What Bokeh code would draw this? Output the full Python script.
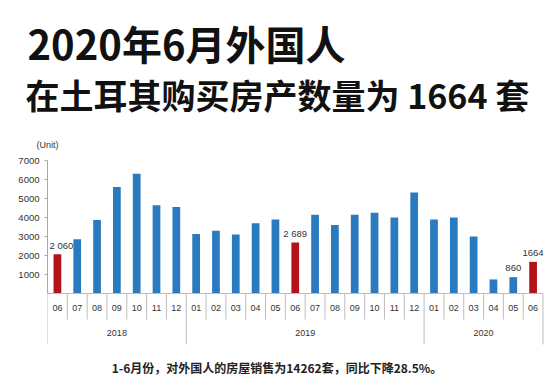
from bokeh.plotting import figure
from bokeh.models import Range1d, FixedTicker, ColumnDataSource
from bokeh.core.properties import value
from bokeh.embed import file_html
from bokeh.resources import INLINE

# ---- data ----
months = ["06", "07", "08", "09", "10", "11", "12",
          "01", "02", "03", "04", "05", "06", "07", "08", "09", "10", "11", "12",
          "01", "02", "03", "04", "05", "06"]
years = ["2018", "2019", "2020"]
year_counts = [7, 12, 6]
sales = [2060, 2850, 3870, 5600, 6300, 4650, 4550,
         3130, 3300, 3100, 3700, 3900, 2689, 4150, 3600, 4150, 4250, 4000, 5320,
         3900, 4000, 3000, 740, 860, 1664]
value_labels = ["2 060", "", "", "", "", "", "",
                "", "", "", "", "", "2 689", "", "", "", "", "", "",
                "", "", "", "", "860", "1664"]
y_ticks = [1000, 2000, 3000, 4000, 5000, 6000, 7000]
title_1 = "2020年6月外国人"
title_2 = "在土耳其购买房产数量为 1664 套"
caption = "1-6月份，对外国人的房屋销售为14262套，同比下降28.5%。"
unit_label = "(Unit)"

# ---- layout helpers (pixel -> data) ----
L = 47
CAT_W = 19.82
Y0 = 293.0
PPK = 19.0
W, H = 554, 376


def xd(px):
    return (px - L) / CAT_W


def yd(py):
    return (Y0 - py) / PPK * 1000.0


BLUE = "#2a7abf"
RED = "#b3141c"

n = len(sales)
xs = [i + 0.5 for i in range(n)]
colors = [RED if m == "06" else BLUE for m in months]
# first value label sits a little right of its bar (clear of the axis)
label_dx = [4 if i == 0 else 0 for i in range(n)]

p = figure(width=W, height=H,
           x_range=Range1d(0, xd(W)), y_range=Range1d(yd(H), yd(0)),
           x_axis_location=None, y_axis_location="left",
           toolbar_location=None, output_backend="svg", title=None,
           min_border_left=L, min_border_right=0,
           min_border_top=0, min_border_bottom=0)
p.outline_line_color = None
p.grid.visible = False
p.background_fill_color = "white"
p.border_fill_color = "white"

# y axis
ax = p.yaxis[0]
ax.ticker = FixedTicker(ticks=y_ticks)
ax.bounds = (0, 7000)
ax.axis_line_color = "#a8a8a8"
ax.major_tick_line_color = "#a8a8a8"
ax.major_tick_out = 3
ax.major_tick_in = 0
ax.minor_tick_line_color = None
ax.major_label_standoff = 5
ax.major_label_text_font = "Liberation Sans"
ax.major_label_text_font_size = "9.5px"
ax.major_label_text_color = "#333333"

# bars
src = ColumnDataSource(dict(x=xs, v=sales, c=colors, lab=value_labels, dx=label_dx))
p.vbar(x="x", top="v", bottom=0, width=0.39, fill_color="c", line_color=None, source=src)

# value labels
p.text(x="x", y="v", text="lab", source=src, text_font=value("Liberation Sans"),
       text_font_size="9.5px", text_color="#333333", text_align="center",
       text_baseline="middle", x_offset="dx", y_offset=-9, level="overlay")

# baseline and category separators
grey = "#bdbdbd"
p.segment(x0=[0], y0=[0], x1=[n], y1=[0], line_color=grey, line_width=1)
year_bounds = [0]
for c in year_counts:
    year_bounds.append(year_bounds[-1] + c)
sx0, sy0, sx1, sy1 = [], [], [], []
for b in range(n + 1):
    bottom = yd(344) if b in year_bounds else yd(319)
    sx0.append(b); sy0.append(0); sx1.append(b); sy1.append(bottom)
p.segment(x0=sx0, y0=sy0, x1=sx1, y1=sy1, line_color=grey, line_width=1)

# month labels
p.text(x=xs, y=[yd(307.5)] * n, text=months, text_font=value("Liberation Sans"),
       text_font_size="9px", text_color="#333333", text_align="center",
       text_baseline="middle")

# year labels
yc = [(year_bounds[i] + year_bounds[i + 1]) / 2 for i in range(len(years))]
p.text(x=yc, y=[yd(332.5)] * len(years), text=years, text_font=value("Liberation Sans"),
       text_font_size="9px", text_color="#333333", text_align="center",
       text_baseline="middle")

# unit label
p.text(x=[xd(47)], y=[yd(144)], text=[unit_label], text_font=value("Liberation Sans"),
       text_font_size="9px", text_color="#333333", text_align="center",
       text_baseline="middle", level="overlay")

# titles
p.text(x=[xd(27)], y=[yd(42)], text=[title_1], text_font=value("Noto Sans CJK SC"),
       text_font_size="40px", text_font_style="bold", text_color="#111111",
       text_align="left", text_baseline="alphabetic", level="overlay")
p.text(x=[xd(25)], y=[yd(93.5)], text=[title_2], text_font=value("Noto Sans CJK SC"),
       text_font_size="34px", text_font_style="bold", text_color="#111111",
       text_align="left", text_baseline="alphabetic", level="overlay")

# caption
p.text(x=[xd(276.5)], y=[yd(367)], text=[caption], text_font=value("Noto Sans CJK SC"),
       text_font_size="12px", text_font_style="bold", text_color="#222222",
       text_align="center", text_baseline="middle", level="overlay")

open("out.html", "w").write(file_html(p, INLINE))
